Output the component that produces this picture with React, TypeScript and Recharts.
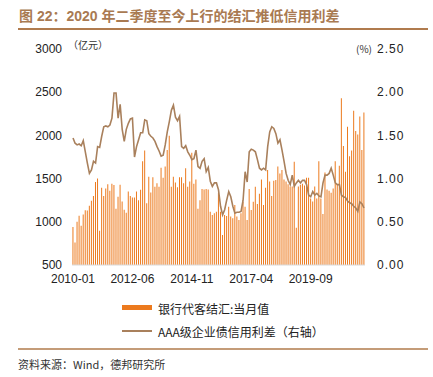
import { ComposedChart, Bar, Line, XAxis, YAxis } from "recharts"

// 月份：2010-01 起，共 143 个月
const months: string[] = []
for (let i = 0; i < 143; i++) {
  const y = 2010 + Math.floor(i / 12)
  const m = (i % 12) + 1
  months.push(`${y}-${m < 10 ? "0" + m : m}`)
}

// 银行代客结汇：当月值（亿元）
const settlement = [
  940, 760, 1000, 1070, 955, 1085, 1135, 1130, 1185, 1245, 1300, 1460,
  1500, 895, 1395, 1300, 1385, 1435, 1360, 1440, 1425, 1150, 1290, 1430,
  1235, 1140, 1105, 1350, 1300, 1280, 1280, 1350, 1250, 1370, 1700, 1825,
  1215, 1520, 1340, 1515, 1405, 1445, 1405, 1625, 1510, 1640, 1830, 1995,
  1405, 1520, 1455, 1400, 1515, 1515, 1445, 1620, 1405, 1465, 1800, 1440,
  1490, 1150, 1250, 1380, 1375, 1380, 1375, 1115, 1080, 1100, 1117, 1337,
  1117, 847, 1079, 1067, 1175, 1060, 1040, 1195, 1060, 1020, 1100, 1233,
  1175, 1020, 1380, 1137, 1233, 1405, 1205, 1325, 1490, 1195, 1395, 1600,
  1465, 1300, 1475, 1485, 1640, 1560, 1600, 1490, 1465, 1435, 1410, 1410,
  1696, 932, 1410, 1430, 1440, 1420, 1510, 1510, 1270, 1235, 1410, 1270,
  1700, 1270, 1090, 1570, 1375, 1360, 1335, 1385, 1700, 1430, 1650, 2430,
  1877, 1580, 2100, 1760, 1825, 2286, 2050, 2010, 2218, 1830, 2265,
]

// AAA级企业债信用利差（%，右轴）
const spread = [
  1.47, 1.41, 1.39, 1.40, 1.38, 1.44, 1.31, 1.18, 1.06, 1.10, 1.20, 1.18,
  1.37, 1.36, 1.49, 1.60, 1.61, 1.60, 1.62, 1.70, 1.99, 1.99, 1.70, 1.86,
  1.57, 1.43, 1.57, 1.64, 1.69, 1.70, 1.25, 1.37, 1.45, 1.53, 1.53, 1.68,
  1.67, 1.52, 1.49, 1.47, 1.43, 1.37, 1.32, 1.26, 1.27, 1.39, 1.54, 1.66,
  1.79, 1.85, 1.71, 1.67, 1.72, 1.37, 1.35, 1.38, 1.31, 1.27, 1.22, 1.23,
  1.33, 1.14, 1.12, 1.20, 1.23, 1.08, 1.13, 0.97, 0.91, 0.95, 0.95, 0.87,
  0.68, 0.58, 0.64, 0.75, 0.85, 0.79, 0.68, 0.60, 0.61, 0.61, 0.62, 0.75,
  1.08, 0.96, 1.31, 1.34, 1.33, 1.31, 1.22, 1.12, 1.10, 1.12, 1.10, 1.37,
  1.54, 1.60, 1.58, 1.52, 1.41, 1.45, 1.33, 1.20, 1.06, 0.98, 0.93, 1.04,
  0.91, 0.95, 0.98, 0.95, 0.98, 0.98, 0.93, 0.81, 0.79, 0.85, 0.81, 0.83,
  0.80, 0.79, 0.95, 1.04, 1.04, 1.06, 1.12, 1.04, 0.95, 0.93, 0.93, 0.81,
  0.79, 0.78, 0.74, 0.72, 0.71, 0.68, 0.66, 0.62, 0.73, 0.71, 0.66,
]

const leftTicks = [500, 1000, 1500, 2000, 2500, 3000]
const rightTicks = [0, 0.5, 1, 1.5, 2, 2.5]

const data = months.map((m, i) => ({ month: m, settle: settlement[i], spread: spread[i] }))

const BAR = "#EC7A1E"
const LINE = "#A9805C"
const RULE = "#B07B4E"

export default function App() {
  return (
    <div
      style={{
        position: "absolute",
        left: 0,
        top: 0,
        width: 433,
        height: 377,
        background: "#fff",
        fontFamily: "'Liberation Sans', Arial, sans-serif",
      }}
    >
      <div
        style={{
          position: "absolute",
          left: 19,
          top: 5,
          fontSize: 14,
          fontWeight: "bold",
          color: "#A97A52",
          fontFamily: "'Liberation Sans', 'Noto Sans CJK SC', sans-serif",
          whiteSpace: "nowrap",
        }}
      >
        图 22：2020 年二季度至今上行的结汇推低信用利差
      </div>
      <div style={{ position: "absolute", left: 18, top: 28, width: 410, height: 2, background: RULE }} />

      <div
        style={{
          position: "absolute",
          left: 68,
          top: 37,
          fontSize: 10,
          color: "#333",
          fontFamily: "'Noto Sans CJK SC', sans-serif",
        }}
      >
        （亿元）
      </div>
      <div
        style={{
          position: "absolute",
          left: 356,
          top: 41,
          fontSize: 10,
          color: "#333",
          fontFamily: "'Noto Sans CJK SC', sans-serif",
        }}
      >
        (%)
      </div>

      <div style={{ position: "absolute", left: 0, top: 0 }}>
        <ComposedChart
          width={433}
          height={285}
          data={data}
          margin={{ top: 49, right: 0, left: 0, bottom: 0 }}
          barCategoryGap="22%"
        >
          <XAxis
            dataKey="month"
            interval={28}
            tickLine={false}
            tickSize={6}
            tickMargin={3}
            axisLine={{ stroke: "#D9D9D9" }}
            height={20}
            tick={{ fill: "#222", fontSize: 12 }}
          />
          <YAxis
            yAxisId="left"
            domain={[500, 3000]}
            ticks={leftTicks}
            width={72}
            tickLine={false}
            axisLine={false}
            tickSize={6}
            tickMargin={4}
            tick={{ fill: "#222", fontSize: 12 }}
          />
          <YAxis
            yAxisId="right"
            orientation="right"
            domain={[0, 2.5]}
            ticks={rightTicks}
            width={68}
            tickLine={false}
            axisLine={false}
            tickSize={6}
            tickMargin={6}
            tickFormatter={(v: number) => v.toFixed(2)}
            tick={{ fill: "#222", fontSize: 12, letterSpacing: 1, textAnchor: "start" }}
          />
          <Bar yAxisId="left" dataKey="settle" fill={BAR} isAnimationActive={false} />
          <Line
            yAxisId="right"
            dataKey="spread"
            stroke={LINE}
            strokeWidth={1.6}
            dot={false}
            type="linear"
            isAnimationActive={false}
          />
        </ComposedChart>
      </div>

      <div style={{ position: "absolute", left: 122, top: 305, width: 30, height: 5, background: BAR }} />
      <div
        style={{
          position: "absolute",
          left: 158,
          top: 300,
          fontSize: 12,
          color: "#222",
          fontFamily: "'Noto Sans CJK SC', sans-serif",
          whiteSpace: "nowrap",
        }}
      >
        银行代客结汇:当月值
      </div>
      <div style={{ position: "absolute", left: 122, top: 330, width: 30, height: 1.5, background: LINE }} />
      <div
        style={{
          position: "absolute",
          left: 158,
          top: 323,
          fontSize: 12,
          color: "#222",
          fontFamily: "'Noto Sans CJK SC', sans-serif",
          whiteSpace: "nowrap",
        }}
      >
        AAA级企业债信用利差（右轴）
      </div>

      <div style={{ position: "absolute", left: 18, top: 348, width: 410, height: 1.5, background: "#C49C78" }} />
      <div
        style={{
          position: "absolute",
          left: 18,
          top: 356,
          fontSize: 11,
          color: "#333",
          fontFamily: "'Noto Sans CJK SC', sans-serif",
          whiteSpace: "nowrap",
        }}
      >
        资料来源：Wind，德邦研究所
      </div>
    </div>
  )
}
